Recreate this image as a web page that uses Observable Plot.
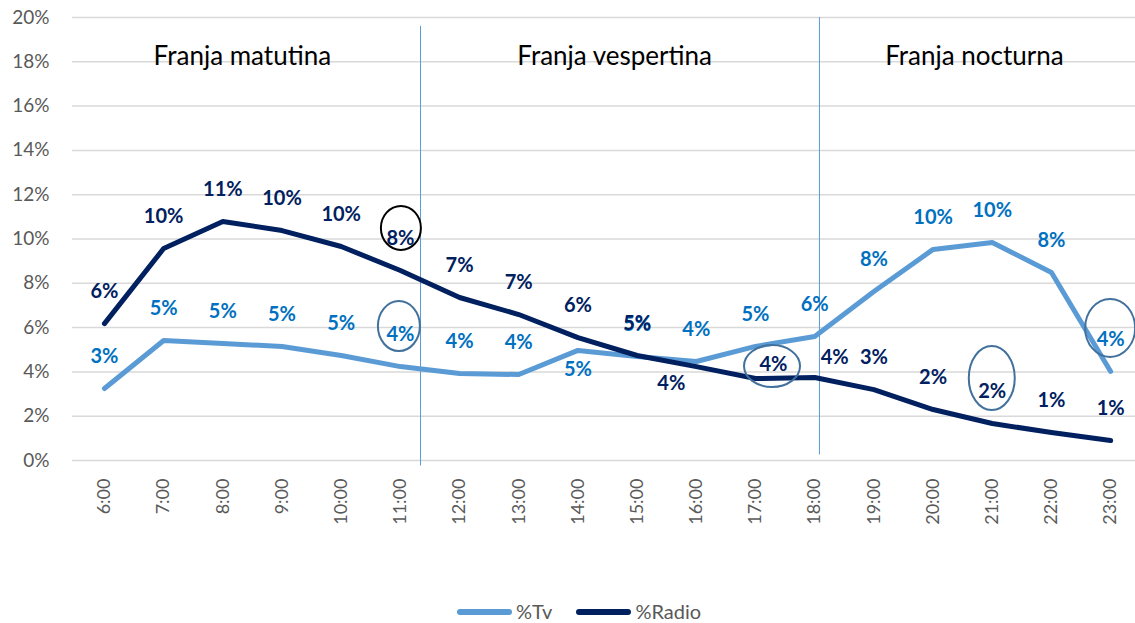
<!DOCTYPE html>
<html><head><meta charset="utf-8">
<script src="https://cdn.jsdelivr.net/npm/d3@7"></script>
<script src="https://cdn.jsdelivr.net/npm/@observablehq/plot@0.6"></script>
<style>
body{margin:0;background:#fff;font-family:Lato,"Open Sans",sans-serif;}
#wrap{position:relative;width:1135px;height:623px;overflow:hidden;}
#legend{position:absolute;left:457px;top:601px;height:21px;line-height:21px;display:flex;align-items:center;font-size:20px;color:#595959;font-family:Lato,sans-serif;}
#legend .sw{display:inline-block;width:55px;height:6px;border-radius:3px;margin-right:4px;}
#legend .it{display:flex;align-items:center;margin-right:24px;line-height:21px;}
</style>
</head><body><div id="wrap"><div id="chart"></div>
<div id="legend">
<span class="it"><span class="sw" style="background:#5B9BD5"></span>%Tv</span>
<span class="it"><span class="sw" style="background:#002060"></span>%Radio</span>
</div></div>
<script>
const hours = [6,7,8,9,10,11,12,13,14,15,16,17,18,19,20,21,22,23];
const tv = [3.25,5.42,5.28,5.15,4.74,4.24,3.93,3.88,4.97,4.70,4.47,5.15,5.60,7.63,9.53,9.84,8.49,4.02];
const radio = [6.18,9.57,10.79,10.38,9.66,8.58,7.36,6.59,5.55,4.74,4.24,3.70,3.75,3.20,2.30,1.67,1.26,0.90];
const tvLabels = ["3%","5%","5%","5%","5%","4%","4%","4%","5%","5%","4%","5%","6%","8%","10%","10%","8%","4%"];
const radioLabels = ["6%","10%","11%","10%","10%","8%","7%","7%","6%","5%","4%","4%","4%","3%","2%","2%","1%","1%"];
const yTicks = [0,2,4,6,8,10,12,14,16,18,20];
const sections = ["Franja matutina","Franja vespertina","Franja nocturna"];
const sectionCenters = [8.33,14.62,20.7];
const dividers = [11.34,18.08];

const TV = "#5B9BD5", RADIO = "#002060", TVLAB = "#0070C0";
const tvData = hours.map((h,i)=>({hour:h, v:tv[i], label:tvLabels[i]}));
const radioData = hours.map((h,i)=>({hour:h, v:radio[i], label:radioLabels[i]}));

// label offsets in px (default above the point)
const tvOff = {14:[0,19]};
const radioOff = {16:[-25,17],17:[18,-14],18:[20,-20]};
function labelMarks(data, off, color){
  const groups = new Map();
  for (const d of data){
    const o = off[d.hour] || [0,-32];
    const k = o.join(",");
    if(!groups.has(k)) groups.set(k,{o,rows:[]});
    groups.get(k).rows.push(d);
  }
  return [...groups.values()].map(g=>Plot.text(g.rows,{x:"hour",y:"v",text:"label",dx:g.o[0],dy:g.o[1],fill:color,fontSize:20,fontWeight:"bold",fontFamily:"Lato, sans-serif"}));
}

const plot = Plot.plot({
  width:1135, height:590,
  marginLeft:72, marginRight:0, marginTop:17, marginBottom:130,
  style:{fontFamily:"Lato, sans-serif", background:"#fff"},
  x:{type:"linear", domain:[5.46,23.42]},
  y:{domain:[0,20]},
  marks:[
    Plot.ruleY(yTicks,{stroke:"#D9D9D9",strokeWidth:1.5}),
    Plot.axisY(yTicks,{tickSize:0,tickPadding:23,tickFormat:d=>d+"%",fontSize:19,fill:"#595959",label:null}),
    Plot.axisX(hours,{tickSize:0,tickPadding:18,tickRotate:-90,tickFormat:d=>d+":00",fontSize:18,fill:"#595959",label:null}),
    Plot.ruleX(dividers,{stroke:TV,strokeWidth:1,y1:[19.6,20],y2:[-0.25,0.25]}),
    Plot.text(sections.map((s,i)=>({s,x:sectionCenters[i]})),{x:"x",frameAnchor:"top",lineAnchor:"middle",dy:39,text:"s",fontSize:26,fill:"#000"}),
    Plot.line(tvData,{x:"hour",y:"v",stroke:TV,strokeWidth:5,strokeLinejoin:"round",strokeLinecap:"round"}),
    Plot.line(radioData,{x:"hour",y:"v",stroke:RADIO,strokeWidth:5,strokeLinejoin:"round",strokeLinecap:"round"}),
    ...labelMarks(tvData,tvOff,TVLAB),
    ...labelMarks(radioData,radioOff,RADIO)
  ]
});
document.getElementById("chart").appendChild(plot);

// highlight ellipses anchored at data points
const ellipses = [
  {series:radioData, hour:11, dx:1, dy:-42, rx:20, ry:22, stroke:"#000"},
  {series:tvData, hour:11, dx:-1, dy:-40, rx:21, ry:25, stroke:"#41719C"},
  {series:radioData, hour:17, dx:17, dy:-12, rx:28, ry:21, stroke:"#41719C"},
  {series:radioData, hour:21, dx:0, dy:-45, rx:23, ry:32, stroke:"#41719C"},
  {series:tvData, hour:23, dx:0, dy:-43, rx:25, ry:29, stroke:"#41719C"}
];
const xs = plot.scale("x"), ys = plot.scale("y");
const svg = d3.select(plot);
for (const e of ellipses){
  const d = e.series.find(r=>r.hour===e.hour);
  svg.append("ellipse").attr("cx",xs.apply(d.hour)+e.dx).attr("cy",ys.apply(d.v)+e.dy)
    .attr("rx",e.rx).attr("ry",e.ry).attr("fill","none").attr("stroke",e.stroke).attr("stroke-width",2);
}
</script>
</body></html>
